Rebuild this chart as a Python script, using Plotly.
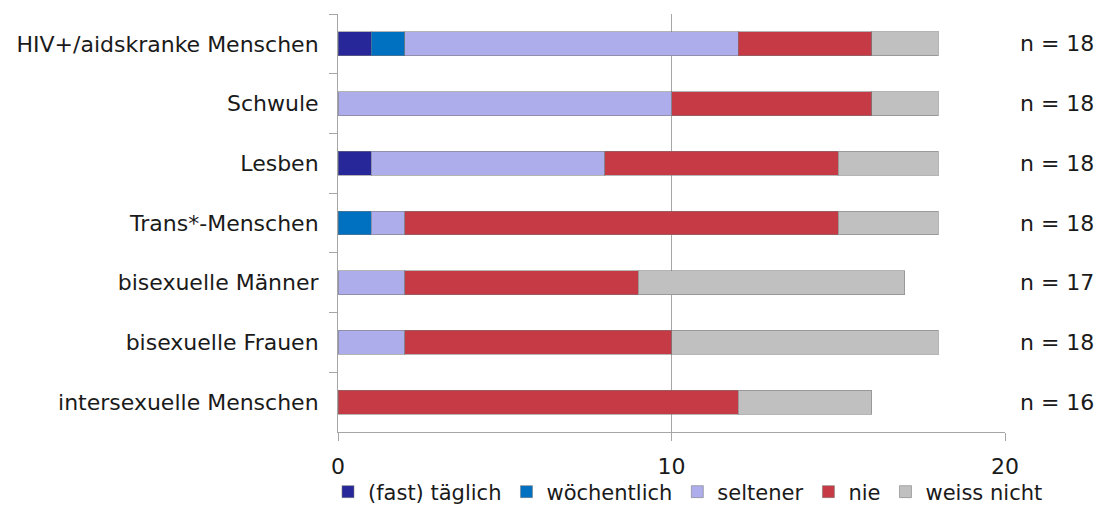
import plotly.graph_objects as go

# Groups, top to bottom
categories = [
    "HIV+/aidskranke Menschen",
    "Schwule",
    "Lesben",
    "Trans*-Menschen",
    "bisexuelle Männer",
    "bisexuelle Frauen",
    "intersexuelle Menschen",
]

# Answer counts per group
fast_taeglich = [1, 0, 1, 0, 0, 0, 0]
woechentlich = [1, 0, 0, 1, 0, 0, 0]
seltener = [10, 10, 7, 1, 2, 2, 0]
nie = [4, 6, 7, 13, 7, 8, 12]
weiss_nicht = [2, 2, 3, 3, 8, 8, 4]

n_labels = ["n = 18", "n = 18", "n = 18", "n = 18", "n = 17", "n = 18", "n = 16"]

x_ticks = [0, 10, 20]

series = [
    ("(fast) täglich", fast_taeglich, "#27279a"),
    ("wöchentlich", woechentlich, "#0070c0"),
    ("seltener", seltener, "#adadeb"),
    ("nie", nie, "#c63a45"),
    ("weiss nicht", weiss_nicht, "#c0c0c0"),
]

FONT = "DejaVu Sans"
FS = 22
TEXT_COLOR = "#1a1a1a"
GRID = "#a6a6a6"

fig = go.Figure()
for name, vals, color in series:
    fig.add_trace(go.Bar(
        y=categories,
        x=vals,
        name=name,
        orientation="h",
        marker=dict(color=color, line=dict(color="rgba(120,120,120,0.55)", width=1)),
    ))

for cat, lab in zip(categories, n_labels):
    fig.add_annotation(
        x=1, xref="paper", xanchor="left", xshift=13,
        y=cat, yref="y",
        text=lab, showarrow=False,
        font=dict(family=FONT, size=FS, color=TEXT_COLOR),
    )

fig.update_layout(
    barmode="stack",
    bargap=0.6,
    width=1110,
    height=506,
    margin=dict(l=338, r=105, t=14, b=74, autoexpand=False),
    paper_bgcolor="white",
    plot_bgcolor="white",
    font=dict(family=FONT, size=FS, color=TEXT_COLOR),
    showlegend=True,
    legend=dict(
        orientation="h",
        x=-0.015, xanchor="left",
        y=-0.1435, yanchor="middle",
        font=dict(family=FONT, size=21, color=TEXT_COLOR),
        traceorder="normal",
        itemwidth=30,
        tracegroupgap=0,
        bgcolor="rgba(0,0,0,0)",
    ),
    xaxis=dict(
        range=[0, 20],
        tickvals=x_ticks,
        ticktext=[str(v) for v in x_ticks],
        showgrid=True,
        gridcolor=GRID,
        gridwidth=1,
        showline=True,
        linecolor=GRID,
        linewidth=1,
        ticks="outside",
        ticklen=8,
        tickcolor=GRID,
        zeroline=False,
        ticklabelstandoff=7,
        tickfont=dict(family=FONT, size=FS, color=TEXT_COLOR),
    ),
    yaxis=dict(
        categoryorder="array",
        categoryarray=categories,
        autorange="reversed",
        showline=True,
        linecolor=GRID,
        linewidth=1,
        ticks="outside",
        tickson="boundaries",
        ticklen=8,
        tickcolor=GRID,
        showgrid=False,
        ticklabelstandoff=14,
        tickfont=dict(family=FONT, size=FS, color=TEXT_COLOR),
    ),
)

fig.write_html("out.html")
